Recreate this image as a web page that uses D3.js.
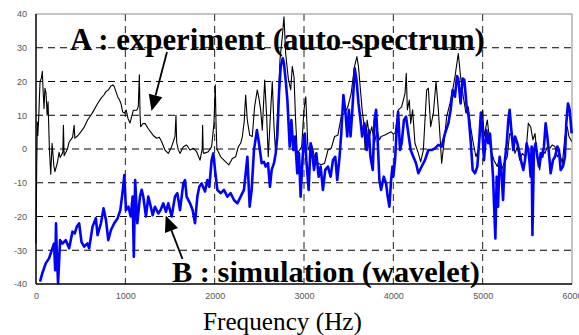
<!DOCTYPE html>
<html><head><meta charset="utf-8">
<script src="https://cdn.jsdelivr.net/npm/d3@7"></script>
<style>body{margin:0;background:#fff}svg{display:block}</style>
</head><body><svg id="c" width="579" height="335"></svg>
<script>
const xTicks = [0,1000,2000,3000,4000,5000,6000];
const yTicks = [-40,-30,-20,-10,0,10,20,30,40];
const labelA = "A : experiment (auto-spectrum)";
const labelB = "B : simulation (wavelet)";
const xTitle = "Frequency (Hz)";

const expHz = [0,8,15,20,30,45,60,71,80,90,100,112,125,135,150,165,180,200,212,240,258,270,300,307,315,352,370,410,427,435,470,500,540,577,615,650,690,727,760,783,810,839,860,876,895,914,935,951,970,989,1010,1030,1052,1070,1090,1130,1145,1157,1165,1172,1195,1220,1257,1285,1313,1350,1380,1406,1444,1481,1518,1556,1567,1575,1590,1612,1649,1686,1724,1761,1798,1836,1860,1865,1872,1880,1929,1966,1992,2007,2015,2025,2067,2123,2160,2198,2235,2265,2291,2310,2330,2347,2365,2392,2421,2447,2477,2496,2515,2533,2560,2582,2600,2627,2645,2664,2683,2709,2731,2757,2776,2795,2824,2851,2869,2888,2906,2925,2951,2974,3000,3020,3045,3082,3119,3156,3193,3231,3268,3305,3342,3379,3417,3454,3491,3528,3565,3592,3610,3632,3651,3670,3684,3707,3733,3759,3789,3818,3845,3863,3900,3937,3975,4000,4019,4056,4093,4131,4145,4157,4179,4194,4216,4242,4280,4306,4336,4373,4392,4418,4448,4478,4504,4541,4567,4597,4634,4664,4690,4727,4753,4783,4813,4839,4865,4895,4925,4951,4977,5000,5015,5052,5090,5127,5164,5190,5213,5239,5276,5302,5332,5362,5388,5414,5444,5481,5511,5537,5563,5586,5612,5638,5668,5698,5724,5750,5780,5810,5836,5862,5892,5921,5947,5966,5996];
const expDb = [-28,-5,8,4,9,20,21,23,17,12,18,16.6,10,14,0,-7.5,1.7,-5,-6.7,-4,-1,-2.5,-1,7,-2,0,2,3.5,7,3.2,4,5,6.5,8.6,10,11.6,13.5,15,16,17,17.5,18.7,19,18.5,17,15.5,14.5,13.5,11,10.6,11.5,9,7.7,9.5,11.5,11.5,12.6,22,10,6.6,7.5,7.6,6,5,4,3.2,3.5,2.2,-0.3,-1.3,0.7,3.7,10,2,0,-1.3,0.7,1.2,-0.3,0.2,-0.8,-3.3,0,7,-1,-1.3,-0.8,0.7,7.6,19,8,0,-2.3,-3.8,-4.7,-2.8,-2.3,0.7,1.7,3.7,8,16,8.6,4.1,3.7,12.5,17.5,15,11.6,5.6,20.4,9.6,-2.3,11.6,20,6.6,-1.3,11.6,26.4,33.3,39.2,28.3,21,17.5,24.5,21.4,8.6,-1.3,-0.3,0.7,11.6,15.5,-0.3,1.7,-2.3,-4.2,-4.7,-4.2,-0.3,0.2,3.7,4.1,9.6,10.6,12.5,16.5,24.4,27.4,24.4,17.5,11.6,7.6,-0.3,8.6,3.7,6.6,1.7,5.6,2.7,3.7,4.1,4.6,5.1,4.5,4.6,11.6,12.5,16.5,22.4,11.6,14.5,7.6,11.6,1.7,-1.3,-3.8,-0.3,17.5,18,6.6,10.6,20,11.6,-4.2,1.7,9.6,13.5,17.5,21.4,28.3,21.4,15.5,10.6,12.5,6.6,1.7,-2.3,-0.3,5.6,11.6,3.7,8.6,-0.3,-3.3,-5.2,-2.3,-6.2,-4.2,-2.3,4.6,3.7,-1.3,0.7,-3.3,-1.3,-2.3,7.6,6.6,2.7,4.6,-2.3,-6.2,-0.3,-1.3,0.7,0.2,1.2,0.7,-2.3,-1.3,-4.2,3.7,6.6,3.7,2.2];

const simHz = [45,71,109,146,184,202,215,224,232,247,270,296,333,371,408,434,457,483,509,539,577,595,633,670,689,727,756,783,809,839,876,914,944,970,989,1007,1034,1060,1082,1095,1110,1134,1164,1183,1201,1231,1257,1276,1306,1332,1369,1395,1425,1455,1481,1518,1556,1582,1612,1649,1668,1686,1724,1753,1780,1806,1828,1854,1892,1918,1940,1966,1985,2004,2030,2067,2104,2142,2179,2216,2254,2291,2328,2366,2392,2414,2440,2473,2496,2526,2552,2571,2597,2619,2638,2664,2683,2701,2720,2739,2762,2776,2795,2814,2840,2859,2880,2899,2925,2944,2962,2981,3000,3010,3026,3052,3074,3093,3112,3138,3164,3186,3212,3238,3268,3298,3324,3350,3372,3398,3417,3441,3465,3484,3502,3521,3539,3568,3588,3610,3632,3651,3677,3703,3725,3744,3770,3789,3807,3826,3844,3863,3893,3919,3937,3956,3975,3990,4000,4019,4037,4054,4075,4093,4119,4142,4168,4194,4224,4254,4280,4317,4354,4392,4429,4466,4504,4541,4578,4616,4642,4664,4690,4712,4727,4753,4776,4795,4821,4843,4865,4888,4914,4940,4962,4980,4996,5015,5041,5063,5082,5101,5116,5127,5142,5157,5172,5190,5209,5228,5246,5269,5287,5302,5321,5343,5362,5388,5414,5436,5455,5474,5492,5511,5526,5537,5548,5557,5574,5593,5612,5630,5649,5668,5686,5705,5724,5742,5761,5787,5810,5836,5854,5873,5899,5921,5936,5955,5974,5996];
const simDb = [-39.3,-36.8,-33.9,-32.4,-29.4,-28,-35.9,-22,-30,-39.8,-27,-28,-27,-29.4,-24.5,-25,-23,-22,-27.5,-28.9,-28,-29.4,-23,-20.5,-25.5,-22,-17.6,-21,-27,-24,-22,-20.5,-18.1,-12.6,-7.7,-18.1,-17.1,-20,-14.1,-31.9,-9.2,-22,-14.1,-12.1,-14.1,-20,-14.1,-16.1,-19.6,-17.1,-19.1,-18.1,-16.1,-18.6,-16.1,-20,-14.1,-13.1,-18.1,-10.2,-9.2,-14.1,-16.1,-18.1,-22,-14.1,-11.2,-10.2,-12.6,-9.2,-11.2,-3.3,-1.3,-6.2,-12.1,-13.1,-12.1,-14.1,-13.1,-15.1,-16.1,-14.1,-12.1,-2.3,-17.1,-12.1,-0.3,5.6,1.7,-4.2,-3.8,-5.2,-4.2,-11.2,-6.2,-4.2,-1.3,3.7,16.5,24.4,26.9,25.4,20.4,14.5,0.7,8.6,-0.3,3.7,-7.2,-1.3,-14.1,-4.2,3.7,4.6,-3.3,-12.1,1.7,-1.3,-6.2,-1.3,-8.2,-5.2,-12.1,-6.2,-5.2,-8.2,-3.3,-2.3,-9.2,-2.3,4.6,16,10.6,3.7,11.6,3.7,10.6,23.9,20.4,13.5,8.6,3.7,7.6,-0.3,5.6,-2.3,-6.2,8.6,11.6,1.7,-9.2,-12.1,-8.2,-10.2,-14.1,-17.1,-9.2,-5.2,-8.2,-3.3,5.6,11,-0.3,1.7,8.6,9.6,4.6,-0.3,-2.3,-4.2,-7.2,-5.2,-3.3,-0.3,-0.3,0.2,1.2,0.7,4.6,7.6,11.6,17.5,15.5,21.6,20.9,13.5,20.9,20.5,12.5,9.6,2.7,-6.2,-7.2,-5.2,2.7,10.8,5.6,-3.3,5.6,1.7,4.6,-2.3,-8.2,-16.1,-26.5,-8.2,-17.1,-2.3,-6.2,-15.1,-4.2,1.7,8.6,11.6,5.6,-0.3,3.7,1.7,-1.3,-4.2,-6.2,-3.3,1.7,-0.3,-4.2,-8.2,0.7,-25.5,-0.3,1.7,-2.3,-5.2,-1.3,-2.3,0.7,7.6,3.7,-1.3,-7.2,-3.3,-2.3,0.7,-0.3,-6.2,-5.2,-2.3,7.6,13.5,11.6,4.6];

const svg = d3.select("#c");
const x = d3.scaleLinear().domain([0,6000]).range([36,572]);
const y = d3.scaleLinear().domain([-40,40]).range([284,14]);

// grid
const g = svg.append("g");
g.selectAll("line.h").data(yTicks.filter(v=>v>-40&&v<40)).join("line")
  .attr("x1",36).attr("x2",572).attr("y1",d=>y(d)).attr("y2",d=>y(d))
  .attr("stroke","#000").attr("stroke-width",1).attr("stroke-dasharray","7,5");
g.selectAll("line.v").data(xTicks.filter(v=>v>0&&v<6000)).join("line")
  .attr("y1",14).attr("y2",284).attr("x1",d=>x(d)).attr("x2",d=>x(d))
  .attr("stroke","#222").attr("stroke-width",1).attr("stroke-dasharray","7,5");

// frame
svg.append("line").attr("x1",36).attr("x2",572).attr("y1",14).attr("y2",14).attr("stroke","#888");
svg.append("line").attr("x1",572).attr("x2",572).attr("y1",14).attr("y2",284).attr("stroke","#888");

const line = d3.line().x(d=>x(d[0])).y(d=>y(d[1]));
svg.append("path").datum(expHz.map((h,i)=>[h,expDb[i]])).attr("d",line)
  .attr("fill","none").attr("stroke","#000").attr("stroke-width",1.1).attr("stroke-linejoin","round");
svg.append("path").datum(simHz.map((h,i)=>[h,simDb[i]])).attr("d",line)
  .attr("fill","none").attr("stroke","#0000ff").attr("stroke-width",2.6).attr("stroke-linejoin","round");

// axes lines
svg.append("line").attr("x1",36).attr("x2",36).attr("y1",14).attr("y2",284).attr("stroke","#000").attr("stroke-width",1.5);
svg.append("line").attr("x1",36).attr("x2",572).attr("y1",284).attr("y2",284).attr("stroke","#000").attr("stroke-width",1.5);

// tick labels
const yAxis = d3.axisLeft(y).tickValues(yTicks).tickSize(0).tickPadding(9).tickFormat(d=>String(d));
const ya = svg.append("g").attr("transform","translate(36,0)").call(yAxis);
ya.select(".domain").remove();
ya.selectAll("text").attr("font-family","Liberation Sans, Arial, sans-serif").attr("font-size",9).attr("fill","#555");
const xAxis = d3.axisBottom(x).tickValues(xTicks).tickSize(0).tickPadding(9).tickFormat(d=>String(d));
const xa = svg.append("g").attr("transform","translate(0,284)").call(xAxis);
xa.select(".domain").remove();
xa.selectAll("text").attr("font-family","Liberation Sans, Arial, sans-serif").attr("font-size",9).attr("fill","#555");

function fitText(t, x0, yb, w, size, weight){
  const el = svg.append("text").attr("x",x0).attr("y",yb).text(t)
    .attr("font-family","Liberation Serif, Times New Roman, serif")
    .attr("font-weight",weight).attr("font-size",size).attr("fill","#000");
  const len = el.node().getComputedTextLength();
  el.attr("font-size", size*w/len);
  return el;
}
fitText(labelA, 70, 50, 415, 30, "bold");
fitText(labelB, 172, 282, 308, 30, "bold");
const tt = fitText(xTitle, 203, 330, 159, 22, "normal");

// arrows
function arrow(x1,y1,x2,y2){
  const dx=x2-x1, dy=y2-y1, L=Math.hypot(dx,dy), ux=dx/L, uy=dy/L;
  const hl=16, hw=7;
  const bx=x2-ux*hl, by=y2-uy*hl;
  svg.append("line").attr("x1",x1).attr("y1",y1).attr("x2",bx).attr("y2",by).attr("stroke","#000").attr("stroke-width",1.8);
  svg.append("path").attr("d",`M${x2},${y2}L${bx-uy*hw},${by+ux*hw}L${bx+uy*hw},${by-ux*hw}Z`).attr("fill","#000");
}
arrow(167,52,151.5,111);
arrow(182.5,259,165.7,215.5);
</script></body></html>
